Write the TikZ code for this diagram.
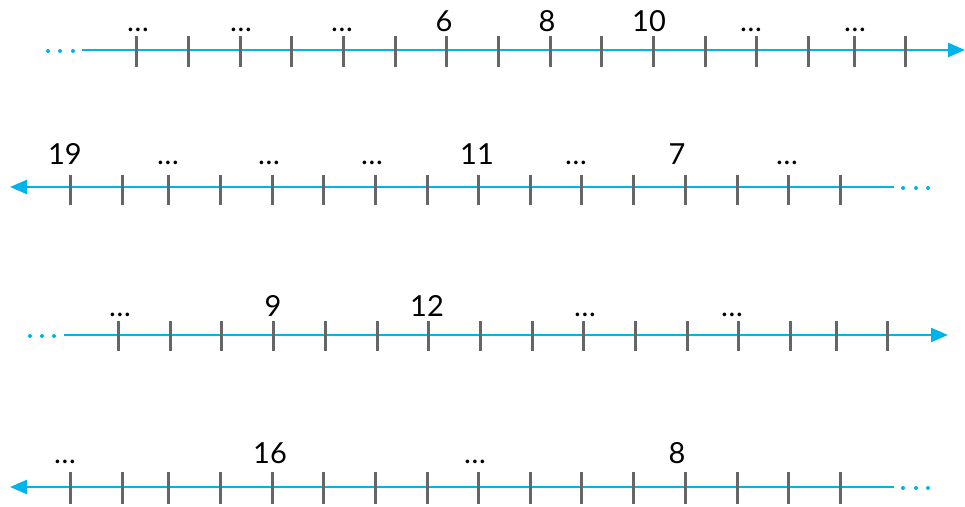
\documentclass[tikz,border=0pt]{standalone}
\usepackage{fontspec}
\setmainfont{Lato}
\usetikzlibrary{arrows.meta}
\definecolor{axiscol}{HTML}{00B4EB}
\definecolor{tickcol}{HTML}{666666}

\begin{document}
\begin{tikzpicture}[x=0.5pt, y=-0.5pt,
    every node/.style={font=\fontsize{14.5}{17}\selectfont, inner sep=0pt, anchor=south},
    axis/.style={draw=axiscol, line width=1.2pt, -{Triangle[length=8.5pt, width=7pt]}},
    tickmark/.style={draw=tickcol, line width=1.5pt},
    lead/.style={fill=axiscol}]
  \useasboundingbox (0,0) rectangle (965,507);

  % first line, to the right
  \coordinate (s1) at (82,50);
  \coordinate (e1) at (965,50);
  \draw[axis] (s1) -- (e1);
  \foreach \x in {48,60,73} \fill[lead] (\x,51) circle (1pt);
  \foreach \x in {136,188,240,291,343,395,446,498,550,601,653,705,756,808,854,905}
    \draw[tickmark] (\x,36) -- (\x,67);
  \foreach \x/\t [count=\i] in {138/…,241/…,342/…,444/6,547/8,649/10,751/…,855/…}
    \node (a\i) at (\x,32) {\t};

  % second line, to the left
  \coordinate (s2) at (894,187);
  \coordinate (e2) at (10,187);
  \draw[axis] (s2) -- (e2);
  \foreach \x in {903,916,928} \fill[lead] (\x,188) circle (1pt);
  \foreach \x in {70,122,168,220,272,323,375,427,478,530,581,633,685,737,788,840}
    \draw[tickmark] (\x,175) -- (\x,205);
  \foreach \x/\t [count=\i] in {65/19,168/…,269/…,372/…,477/11,576/…,677/7,787/…}
    \node (b\i) at (\x,165) {\t};

  % third line, to the right
  \coordinate (s3) at (64,335);
  \coordinate (e3) at (948,335);
  \draw[axis] (s3) -- (e3);
  \foreach \x in {30,42,54} \fill[lead] (\x,336) circle (1pt);
  \foreach \x in {118,170,221,273,325,377,428,480,532,583,635,687,738,790,836,887}
    \draw[tickmark] (\x,321) -- (\x,351);
  \foreach \x/\t [count=\i] in {120/…,273/9,427/12,585/…,732/…}
    \node (c\i) at (\x,317) {\t};

  % fourth line, to the left
  \coordinate (s4) at (894,487);
  \coordinate (e4) at (10,487);
  \draw[axis] (s4) -- (e4);
  \foreach \x in {903,916,928} \fill[lead] (\x,488) circle (1pt);
  \foreach \x in {70,122,168,220,272,323,375,427,478,530,581,633,685,737,788,840}
    \draw[tickmark] (\x,472) -- (\x,504);
  \foreach \x/\t [count=\i] in {65/…,270/16,475/…,677/8}
    \node (d\i) at (\x,464) {\t};
\end{tikzpicture}
\end{document}
